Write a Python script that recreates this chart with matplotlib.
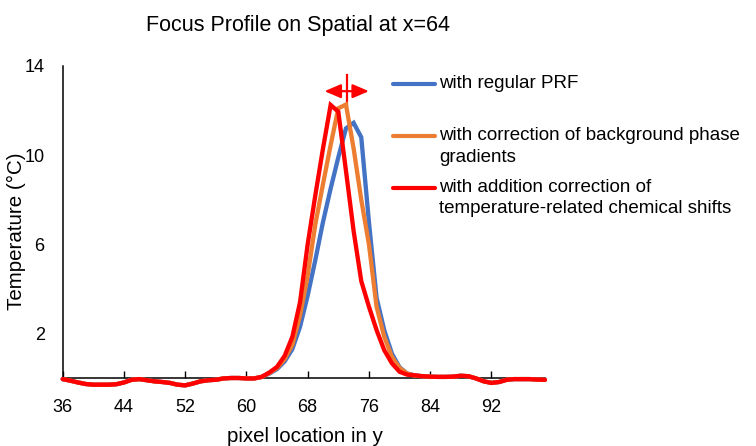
import matplotlib
matplotlib.use("Agg")
import matplotlib.pyplot as plt
from matplotlib.lines import Line2D

plt.rcParams['font.family'] = ['Liberation Sans', 'DejaVu Sans']

# ---- data ----
pixel_y = list(range(36, 100))

baseline_left = [-0.05, -0.12, -0.2, -0.27, -0.3, -0.3, -0.3, -0.28, -0.2, -0.08,
                 -0.05, -0.1, -0.15, -0.18, -0.22, -0.3, -0.33, -0.25, -0.15, -0.1,
                 -0.08, -0.02, 0.0, 0.0, -0.02, -0.02]          # 36..61
baseline_right = [0.08, 0.06, 0.05, 0.05, 0.06, 0.1, 0.08, -0.02, -0.15, -0.22,
                  -0.18, -0.08, -0.05, -0.05, -0.05, -0.07, -0.08]  # 83..99

regular_prf = baseline_left + [0.05, 0.2, 0.4, 0.75, 1.3, 2.3, 3.7, 5.3, 7.0, 8.5,
                               9.9, 11.2, 11.45, 10.8, 7.0, 3.6, 2.15, 1.1, 0.48, 0.2,
                               0.12] + baseline_right
bg_corrected = baseline_left + [0.05, 0.22, 0.45, 0.85, 1.5, 2.8, 4.6, 6.9, 8.7, 10.45,
                                12.1, 12.27, 10.3, 8.0, 6.0, 3.2, 1.85, 0.95, 0.45, 0.2,
                                0.1] + baseline_right
chem_corrected = baseline_left + [0.05, 0.25, 0.5, 1.0, 1.85, 3.4, 6.0, 8.2, 10.3, 12.25,
                                  11.95, 9.3, 6.6, 4.35, 3.2, 2.15, 1.25, 0.66, 0.28, 0.15,
                                  0.12] + baseline_right

series_labels = ["with regular PRF",
                 "with correction of background phase\ngradients",
                 "with addition correction of\ntemperature-related chemical shifts"]
series_colors = ["#4472C4", "#ED7D31", "#FF0000"]
series_values = [regular_prf, bg_corrected, chem_corrected]

x_ticks = [36, 44, 52, 60, 68, 76, 84, 92]
y_ticks = [2, 6, 10, 14]

# ---- figure ----
W, H = 756, 446
fig = plt.figure(figsize=(W / 100, H / 100), dpi=100)
ax = fig.add_axes([62.7 / W, 1 - 378 / H, (545 - 62.7) / W, (378 - 66) / H])

for vals, col in zip(series_values, series_colors):
    ax.plot(pixel_y, vals, color=col, lw=3.1, solid_capstyle='round',
            solid_joinstyle='miter', clip_on=False, zorder=3)

ax.set_xlim(36, 99)
ax.set_ylim(0, 14)
ax.set_xticks(x_ticks)
ax.set_yticks(y_ticks)
ax.tick_params(axis='x', direction='in', length=5, width=1.0, pad=15, labelsize=13)
ax.tick_params(axis='y', length=0, pad=13, labelsize=13)
for s in ['top', 'right']:
    ax.spines[s].set_visible(False)
for s in ['left', 'bottom']:
    ax.spines[s].set_linewidth(1.1)
    ax.spines[s].set_zorder(2)

ax.set_xlabel("pixel location in y", fontsize=14.75)
ax.xaxis.set_label_coords(0.502, -0.186)
ax.xaxis.label.set_va('center')
ax.set_ylabel("Temperature (°C)", fontsize=14.75)
ax.yaxis.set_label_coords(-0.0954, 0.47)
ax.yaxis.label.set_va('center')

fig.text(298 / W, 1 - 25 / H, "Focus Profile on Spatial at x=64",
         ha='center', va='center', fontsize=15.5)

# peak-shift annotation
ax.annotate("", xy=(70.2, 12.87), xytext=(76.0, 12.87),
            arrowprops=dict(arrowstyle='<|-|>,head_length=0.7,head_width=0.3',
                            color='#FF0000', lw=1.6,
                            mutation_scale=14, shrinkA=0, shrinkB=0),
            annotation_clip=False)
ax.plot([73.15, 73.15], [12.2, 13.6], color='#FF0000', lw=1.6, clip_on=False)

# manual legend
legend_rows = [84, 136, 187.7]
line_step = 21
for lab, col, yr in zip(series_labels, series_colors, legend_rows):
    fig.add_artist(Line2D([392.7 / W, 435 / W], [1 - yr / H, 1 - yr / H],
                          color=col, lw=3.0, solid_capstyle='round',
                          transform=fig.transFigure))
    for i, part in enumerate(lab.split("\n")):
        fig.text(439 / W, 1 - (yr + i * line_step) / H, part, ha='left',
                 va='center', fontsize=13.5, transform=fig.transFigure)

fig.savefig("out.png", dpi=100)
